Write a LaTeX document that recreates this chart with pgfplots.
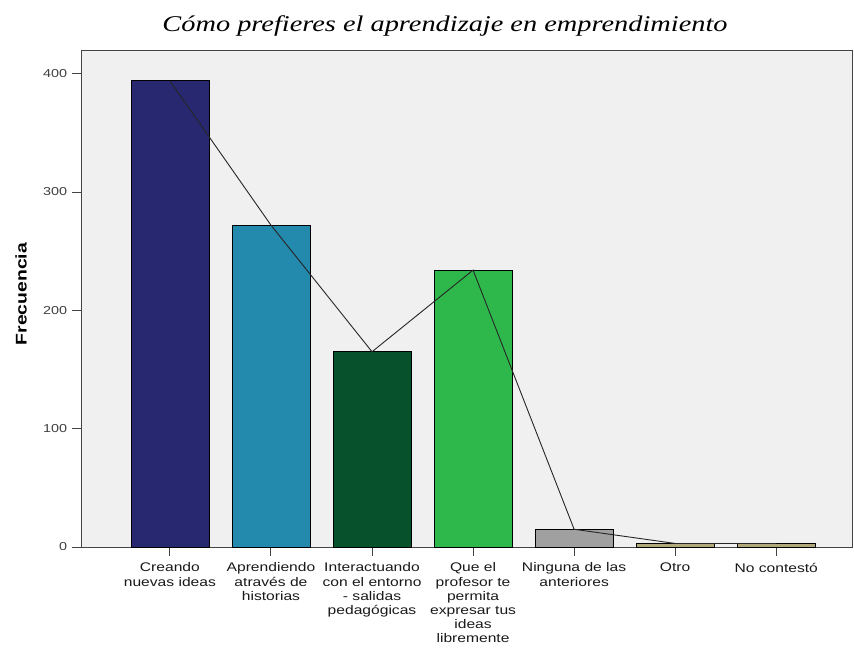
\documentclass[border=0pt]{standalone}
\usepackage{pgfplots}
\pgfplotsset{compat=1.18}
\usepackage{fontspec}
\setmainfont{Liberation Sans}
\newfontfamily\lblfont{Liberation Sans}[FakeStretch=1.25]
\newfontfamily\titlefont{Liberation Serif}[FakeStretch=1.26]
\definecolor{c1}{HTML}{272870}
\definecolor{c2}{HTML}{2389AD}
\definecolor{c3}{HTML}{07522C}
\definecolor{c4}{HTML}{2EB84C}
\definecolor{c5}{HTML}{A0A0A0}
\definecolor{c6}{HTML}{B0A87A}
\definecolor{bg}{HTML}{F0F0F0}
\definecolor{ax}{HTML}{444444}
\begin{document}
\begin{tikzpicture}[x=1pt,y=1pt]
\useasboundingbox (-82,-101) rectangle (772,547);
\begin{axis}[at={(0,0)}, anchor=south west, scale only axis,
  width=770pt, height=497pt,
  xmin=-0.87, xmax=6.75, ymin=0, ymax=420,
  axis background/.style={fill=bg},
  axis line style={ax, line width=1pt},
  tick style={ax, line width=1pt},
  tick align=outside, tick pos=left,
  xtick style={/pgfplots/major tick length=9pt},
  ytick style={/pgfplots/major tick length=10pt},
  ytick={0,100,200,300,400},
  yticklabel style={font=\lblfont\fontsize{11.5}{13}\selectfont, text=black!75, xshift=-7pt},
  /pgf/number format/assume math mode=true,
  xtick={0,1,2,3,4,5,6},
  xticklabels={{Creando\\nuevas ideas},{Aprendiendo\\através de\\historias},{Interactuando\\con el entorno\\- salidas\\pedagógicas},{Que el\\profesor te\\permita\\expresar tus\\ideas\\libremente},{Ninguna de las\\anteriores},{Otro},{No contestó}},
  xticklabel style={font=\lblfont\fontsize{12.5}{14.2}\selectfont, align=center, text=black!90, yshift=-8pt},
]
\addplot[ybar, bar width=0.77, fill=c1, draw=black, line width=0.6pt] coordinates {(0,394)};
\addplot[ybar, bar width=0.77, fill=c2, draw=black, line width=0.6pt] coordinates {(1,272)};
\addplot[ybar, bar width=0.77, fill=c3, draw=black, line width=0.6pt] coordinates {(2,165)};
\addplot[ybar, bar width=0.77, fill=c4, draw=black, line width=0.6pt] coordinates {(3,234)};
\addplot[ybar, bar width=0.77, fill=c5, draw=black, line width=0.6pt] coordinates {(4,15)};
\addplot[ybar, bar width=0.77, fill=c6, draw=black, line width=0.6pt] coordinates {(5,3)};
\addplot[ybar, bar width=0.77, fill=c6, draw=black, line width=0.6pt] coordinates {(6,3)};
\addplot[sharp plot, black!85, line width=0.9pt, mark=none] coordinates {(0,394) (1,272) (2,165) (3,234) (4,15) (5,3) (6,3)};
\end{axis}
\node[font=\lblfont\bfseries\fontsize{15.5}{17}\selectfont, rotate=90] at (-61,253) {Frecuencia};
\node[font=\titlefont\itshape\fontsize{22.5}{24}\selectfont] at (363,521) {Cómo prefieres el aprendizaje en emprendimiento};
\end{tikzpicture}
\end{document}
